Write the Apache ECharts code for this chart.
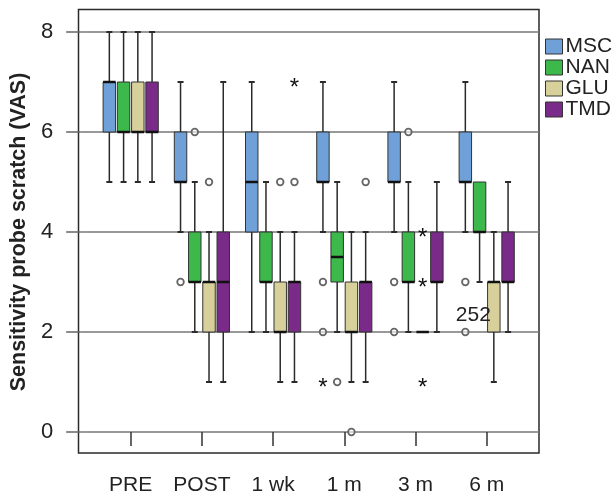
<!DOCTYPE html>
<html>
<head>
<meta charset="utf-8">
<script src="https://cdn.jsdelivr.net/npm/echarts@6/dist/echarts.min.js"></script>
<style>
html, body { margin: 0; padding: 0; background: #fff; }
#chart { width: 613px; height: 496px; }
</style>
</head>
<body>
<div id="chart"></div>
<script>
// categories and groups
const categories = ['PRE', 'POST', '1 wk', '1 m', '3 m', '6 m'];
const groups = ['MSC', 'NAN', 'GLU', 'TMD'];
const colors = ['#6fa0d8', '#3cb94a', '#d8d09a', '#7a2a88'];

// [low whisker, Q1, median, Q3, high whisker] per category
const mscBox = [[5, 6, 7, 7, 8], [4, 5, 5, 6, 7], [2, 4, 5, 6, 7], [4, 5, 5, 6, 7], [4, 5, 5, 6, 7], [4, 5, 5, 6, 7]];
const nanBox = [[5, 6, 6, 7, 8], [2, 3, 3, 4, 5], [2, 3, 3, 4, 5], [2, 3, 3.5, 4, 5], [2, 3, 3, 4, 5], [3, 4, 4, 5, 5]];
const gluBox = [[5, 6, 6, 7, 8], [1, 2, 3, 3, 4], [1, 2, 2, 3, 4], [1, 2, 2, 3, 4], [2, 2, 2, 2, 2], [1, 2, 3, 3, 4]];
const tmdBox = [[5, 6, 6, 7, 8], [1, 2, 3, 4, 7], [1, 2, 3, 3, 4], [1, 2, 3, 3, 4], [2, 3, 3, 4, 5], [2, 3, 3, 4, 5]];

// outliers (circles): [category, group, value]
const outliers = [[1, 0, 3], [1, 1, 6], [1, 2, 5], [2, 2, 5], [2, 3, 5], [3, 0, 3], [3, 0, 2], [3, 1, 1], [3, 2, 0], [3, 3, 5],
	[4, 0, 3], [4, 0, 2], [4, 1, 6], [5, 0, 3], [5, 0, 2]];
// extremes (asterisks): [category, group, value]
const extremes = [[2, 3, 7], [3, 0, 1], [4, 2, 4], [4, 2, 3], [4, 2, 1]];
// case labels: [category, group, value, text]
const caseLabels = [[5, 0, 2, '252']];

const boxData = [mscBox, nanBox, gluBox, tmdBox];
const fontFam = '"Liberation Sans", Arial, sans-serif';

function groupX(api, cat, g, val) {
	let band = api.size([1, 0])[0];
	let p = api.coord([cat, val]);
	return [p[0] + (g - 1.5) * band * 0.2, p[1]];
}

function renderBox(g) {
	return function (params, api) {
		let cat = api.value(0);
		let band = api.size([1, 0])[0];
		let w = band * 0.175;
		let x = groupX(api, cat, g, 0)[0];
		let yLow = api.coord([cat, api.value(1)])[1];
		let yQ1 = api.coord([cat, api.value(2)])[1];
		let yMed = api.coord([cat, api.value(3)])[1];
		let yQ3 = api.coord([cat, api.value(4)])[1];
		let yHigh = api.coord([cat, api.value(5)])[1];
		let line = { stroke: '#2a2a2a', lineWidth: 1.5 };
		let cap = { stroke: '#2a2a2a', lineWidth: 2 };
		let kids = [];
		if (yHigh < yQ3) {
			kids.push({ type: 'line', shape: { x1: x, y1: yQ3, x2: x, y2: yHigh }, style: line });
			kids.push({ type: 'line', shape: { x1: x - 3, y1: yHigh, x2: x + 3, y2: yHigh }, style: cap });
		}
		if (yLow > yQ1) {
			kids.push({ type: 'line', shape: { x1: x, y1: yQ1, x2: x, y2: yLow }, style: line });
			kids.push({ type: 'line', shape: { x1: x - 3, y1: yLow, x2: x + 3, y2: yLow }, style: cap });
		}
		if (yQ1 > yQ3) {
			kids.push({
				type: 'rect',
				shape: { x: x - w / 2, y: yQ3, width: w, height: yQ1 - yQ3 },
				style: { fill: colors[g], stroke: '#333', lineWidth: 1 }
			});
		}
		kids.push({
			type: 'line',
			shape: { x1: x - w / 2, y1: yMed, x2: x + w / 2, y2: yMed },
			style: { stroke: '#111', lineWidth: 2.5 }
		});
		return { type: 'group', children: kids };
	};
}

let series = groups.map(function (name, g) {
	return {
		name: name,
		type: 'custom',
		xAxisIndex: 2,
		yAxisIndex: 2,
		itemStyle: { color: colors[g] },
		encode: { x: 0, y: [1, 2, 3, 4, 5] },
		renderItem: renderBox(g),
		data: boxData[g].map(function (d, i) { return [i].concat(d); }),
		z: 3
	};
});

series.push({
	name: 'outliers',
	type: 'custom',
	xAxisIndex: 2,
	yAxisIndex: 2,
	encode: { x: 0, y: 2 },
	renderItem: function (params, api) {
		let p = groupX(api, api.value(0), api.value(1), api.value(2));
		return {
			type: 'circle',
			shape: { cx: p[0], cy: p[1], r: 3.3 },
			style: { fill: 'rgba(255,255,255,0.6)', stroke: '#666', lineWidth: 1.8 }
		};
	},
	data: outliers,
	z: 4
});

series.push({
	name: 'extremes',
	type: 'custom',
	xAxisIndex: 2,
	yAxisIndex: 2,
	encode: { x: 0, y: 2 },
	renderItem: function (params, api) {
		let p = groupX(api, api.value(0), api.value(1), api.value(2));
		return {
			type: 'text',
			x: p[0],
			y: p[1] + 6,
			style: { text: '*', fill: '#111', font: '24px ' + fontFam, align: 'center', verticalAlign: 'middle' }
		};
	},
	data: extremes,
	z: 4
});

series.push({
	name: 'labels',
	type: 'custom',
	xAxisIndex: 2,
	yAxisIndex: 2,
	encode: { x: 0, y: 2 },
	renderItem: function (params, api) {
		let p = groupX(api, api.value(0), api.value(1), api.value(2));
		return {
			type: 'text',
			x: p[0] + 8,
			y: p[1] - 17,
			style: { text: caseLabels[params.dataIndex][3], fill: '#222', font: '21px ' + fontFam, align: 'center', verticalAlign: 'middle' }
		};
	},
	data: caseLabels.map(function (d) { return d.slice(0, 3); }),
	z: 5
});

let myChart = echarts.init(document.getElementById('chart'), null, { renderer: 'canvas' });
let option = {
	animation: false,
	backgroundColor: '#fff',
	textStyle: { fontFamily: fontFam },
	legend: {
		data: groups,
		orient: 'vertical',
		left: 540,
		top: 31,
		icon: 'rect',
		itemWidth: 17,
		itemHeight: 15,
		itemGap: 0,
		itemStyle: { borderColor: '#333', borderWidth: 1 },
		textStyle: { fontSize: 21, color: '#222', lineHeight: 20, padding: [0, 0, 0, -2] }
	},
	grid: [
		{ left: 78.5, top: 9.5, width: 460.5, height: 443.5, show: true, borderColor: '#2a2a2a', borderWidth: 1.5, backgroundColor: 'transparent' },
		{ left: 78.5, top: 32, width: 460.5, height: 400 },
		{ left: 95.1, top: 32, width: 427.2, height: 400 }
	],
	xAxis: [
		{ gridIndex: 0, type: 'value', show: false },
		{ gridIndex: 1, type: 'value', show: false },
		{
			gridIndex: 2,
			type: 'category',
			data: categories,
			offset: 21,
			axisLine: { show: false },
			axisTick: { show: true, interval: 0, alignWithLabel: true, length: 14, lineStyle: { color: '#333', width: 1.5 } },
			axisLabel: { interval: 0, hideOverlap: false, fontSize: 21, color: '#222', margin: 22 }
		}
	],
	yAxis: [
		{ gridIndex: 0, type: 'value', show: false },
		{
			gridIndex: 1,
			type: 'value',
			min: 0,
			max: 8,
			interval: 2,
			name: 'Sensitivity probe scratch (VAS)',
			nameLocation: 'middle',
			nameGap: 49,
			nameTextStyle: { fontSize: 21.5, fontWeight: 'bold', color: '#222' },
			axisLine: { show: false },
			axisTick: { show: true, length: 14, lineStyle: { color: '#666', width: 1.5 } },
			axisLabel: { fontSize: 22, color: '#222', margin: 27 },
			splitLine: { show: true, lineStyle: { color: '#777', width: 1.5 } }
		},
		{ gridIndex: 2, type: 'value', min: 0, max: 8, show: false }
	],
	series: series
};
myChart.setOption(option);
</script>
</body>
</html>
